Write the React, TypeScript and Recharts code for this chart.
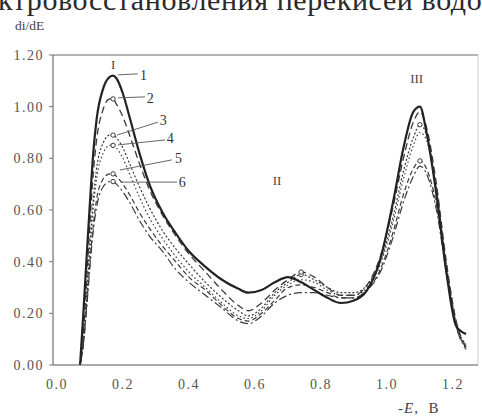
import React from 'react';
import { LineChart, Line, XAxis, YAxis, ReferenceLine, ReferenceDot } from 'recharts';

// -E, B
const potentials = [
  0.07, 0.08, 0.09, 0.1, 0.11, 0.12, 0.14, 0.16, 0.17, 0.18, 0.2, 0.22, 0.25, 0.28, 0.32, 0.36, 0.4, 0.45, 0.5, 0.55,
  0.58, 0.62, 0.66, 0.7, 0.74, 0.78, 0.82, 0.86, 0.9, 0.94, 0.98, 1.02, 1.05, 1.08, 1.1, 1.12, 1.15, 1.18, 1.21, 1.24,
];

// di/dE for curves 1..6
const curve1 = [
  0, 0.2, 0.42, 0.63, 0.82, 0.95, 1.07, 1.115, 1.12, 1.11, 1.05, 0.96, 0.82, 0.7, 0.59, 0.51, 0.44, 0.38, 0.33, 0.295,
  0.28, 0.29, 0.32, 0.34, 0.32, 0.29, 0.26, 0.24, 0.25, 0.29, 0.41, 0.64, 0.84, 0.98, 1.0, 0.9, 0.66, 0.36, 0.15, 0.12,
];
const curve2 = [
  0, 0.12, 0.33, 0.55, 0.74, 0.87, 0.99, 1.03, 1.03, 1.01, 0.96, 0.89, 0.78, 0.68, 0.58, 0.5, 0.43, 0.36, 0.29, 0.23,
  0.21, 0.24, 0.29, 0.33, 0.36, 0.34, 0.3, 0.27, 0.27, 0.31, 0.42, 0.62, 0.8, 0.94, 0.98, 0.92, 0.7, 0.4, 0.17, 0.07,
];
const curve3 = [
  0, 0.1, 0.28, 0.47, 0.64, 0.76, 0.86, 0.89, 0.89, 0.88, 0.84, 0.78, 0.69, 0.61, 0.52, 0.45, 0.39, 0.32, 0.26, 0.21,
  0.19, 0.22, 0.28, 0.32, 0.35, 0.33, 0.3, 0.28, 0.28, 0.31, 0.4, 0.58, 0.75, 0.88, 0.93, 0.89, 0.68, 0.39, 0.16, 0.07,
];
const curve4 = [
  0, 0.09, 0.26, 0.45, 0.61, 0.72, 0.82, 0.85, 0.85, 0.84, 0.8, 0.74, 0.65, 0.57, 0.49, 0.42, 0.36, 0.3, 0.24, 0.19,
  0.18, 0.21, 0.27, 0.31, 0.33, 0.32, 0.29, 0.27, 0.27, 0.3, 0.39, 0.56, 0.72, 0.85, 0.9, 0.87, 0.67, 0.38, 0.16, 0.08,
];
const curve5 = [
  0, 0.08, 0.23, 0.4, 0.54, 0.64, 0.72, 0.74, 0.74, 0.73, 0.7, 0.66, 0.59, 0.53, 0.46, 0.4, 0.34, 0.29, 0.23, 0.18,
  0.17, 0.2, 0.25, 0.3, 0.31, 0.3, 0.28, 0.26, 0.26, 0.29, 0.37, 0.52, 0.66, 0.76, 0.79, 0.76, 0.62, 0.37, 0.15, 0.07,
];
const curve6 = [
  0, 0.08, 0.22, 0.38, 0.52, 0.61, 0.69, 0.71, 0.71, 0.7, 0.67, 0.63, 0.56, 0.5, 0.44, 0.37, 0.32, 0.27, 0.22, 0.17,
  0.16, 0.19, 0.24, 0.27, 0.28, 0.28, 0.27, 0.26, 0.26, 0.29, 0.36, 0.5, 0.63, 0.73, 0.77, 0.74, 0.6, 0.36, 0.15, 0.06,
];

const xTicks = [0, 0.2, 0.4, 0.6, 0.8, 1.0, 1.2];
const yTicks = [0, 0.2, 0.4, 0.6, 0.8, 1.0, 1.2];

// curve number labels: [label, text x, text y, leader from x, from y, to x, to y]
const curveLabels: [string, number, number, number, number, number, number][] = [
  ['1', 0.262, 1.123, 0.185, 1.123, 0.245, 1.127],
  ['2', 0.283, 1.034, 0.185, 1.034, 0.267, 1.038],
  ['3', 0.322, 0.95, 0.182, 0.89, 0.306, 0.94],
  ['4', 0.343, 0.879, 0.185, 0.852, 0.327, 0.871],
  ['5', 0.368, 0.8, 0.191, 0.755, 0.348, 0.794],
  ['6', 0.38, 0.708, 0.197, 0.708, 0.364, 0.708],
];
const regionLabels: [string, number, number][] = [
  ['I', 0.17, 1.165],
  ['II', 0.667, 0.716],
  ['III', 1.09, 1.11],
];

const data = potentials.map((e, i) => ({
  e,
  c1: curve1[i],
  c2: curve2[i],
  c3: curve3[i],
  c4: curve4[i],
  c5: curve5[i],
  c6: curve6[i],
}));

const FONT = '"Liberation Serif", "DejaVu Serif", serif';
const INK = '#3a3a3a';
const tickStyle = { fill: '#555', fontSize: 14, fontFamily: FONT, letterSpacing: 1.5 };

const markerDot = (idx: number[]) => (p: any) =>
  idx.includes(p.index) ? (
    <circle key={p.index} cx={p.cx} cy={p.cy} r={2.2} fill="#fff" stroke={INK} strokeWidth={1} />
  ) : (
    <g key={p.index} />
  );

export default function App() {
  return (
    <div style={{ position: 'absolute', left: 0, top: 0, width: 482, height: 420, background: '#fff', overflow: 'hidden' }}>
      <div
        style={{
          position: 'absolute',
          left: -2,
          top: -15,
          fontFamily: FONT,
          fontSize: 30,
          lineHeight: '30px',
          letterSpacing: 0.6,
          color: '#2a2a2a',
          whiteSpace: 'nowrap',
        }}
      >
        ктровосстановления перекисей водо
      </div>
      <div style={{ position: 'absolute', left: 15, top: 18, fontFamily: FONT, fontSize: 13.5, color: '#444' }}>di/dE</div>
      <div
        style={{ position: 'absolute', left: 398, top: 400, fontFamily: FONT, fontSize: 15, letterSpacing: 1, color: '#444' }}
      >
        -<i>E</i>,&nbsp; B
      </div>
      <LineChart width={482} height={420} data={data} margin={{ top: 55, right: 4, bottom: 25, left: 0 }}>
        <XAxis
          dataKey="e"
          type="number"
          domain={[-0.012, 1.276]}
          ticks={xTicks}
          allowDataOverflow
          tickFormatter={(v: number) => v.toFixed(1)}
          tick={tickStyle}
          tickLine={false}
          tickMargin={8}
          height={30}
          axisLine={{ stroke: '#555' }}
        />
        <YAxis
          type="number"
          domain={[0, 1.2]}
          ticks={yTicks}
          allowDataOverflow
          tickFormatter={(v: number) => v.toFixed(2)}
          tick={tickStyle}
          tickSize={4}
          tickMargin={5}
          width={53}
          axisLine={{ stroke: '#555' }}
          tickLine={{ stroke: '#777' }}
        />
        <ReferenceLine y={1.2} stroke="#666" />
        <ReferenceLine x={1.276} stroke="#ccc" />
        <Line dataKey="c6" type="monotone" stroke={INK} strokeWidth={1.2} strokeDasharray="8 3 2 3" dot={markerDot([8])} isAnimationActive={false} />
        <Line dataKey="c5" type="monotone" stroke={INK} strokeWidth={1.2} strokeDasharray="5 3" dot={markerDot([8, 34])} isAnimationActive={false} />
        <Line dataKey="c4" type="monotone" stroke={INK} strokeWidth={1.2} strokeDasharray="1.5 2.5" dot={markerDot([8])} isAnimationActive={false} />
        <Line dataKey="c3" type="monotone" stroke={INK} strokeWidth={1.2} strokeDasharray="2 2" dot={markerDot([8, 24, 34])} isAnimationActive={false} />
        <Line dataKey="c2" type="monotone" stroke={INK} strokeWidth={1.3} strokeDasharray="7 4" dot={markerDot([8, 24])} isAnimationActive={false} />
        <Line dataKey="c1" type="monotone" stroke="#222" strokeWidth={2.2} dot={false} isAnimationActive={false} />
        {curveLabels.map(([t, tx, ty, x1, y1, x2, y2]) => (
          <ReferenceLine
            key={'l' + t}
            segment={[
              { x: x1, y: y1 },
              { x: x2, y: y2 },
            ]}
            stroke="#555"
            strokeWidth={0.9}
          />
        ))}
        {curveLabels.map(([t, tx, ty]) => (
          <ReferenceDot
            key={'t' + t}
            x={tx}
            y={ty}
            r={0}
            label={{ value: t, position: 'center', fill: '#333', fontSize: 14, fontFamily: FONT }}
          />
        ))}
        {regionLabels.map(([t, x, y]) => (
          <ReferenceDot
            key={'r' + t}
            x={x}
            y={y}
            r={0}
            label={{ value: t, position: 'center', fill: '#444', fontSize: 13, fontFamily: FONT }}
          />
        ))}
      </LineChart>
    </div>
  );
}
